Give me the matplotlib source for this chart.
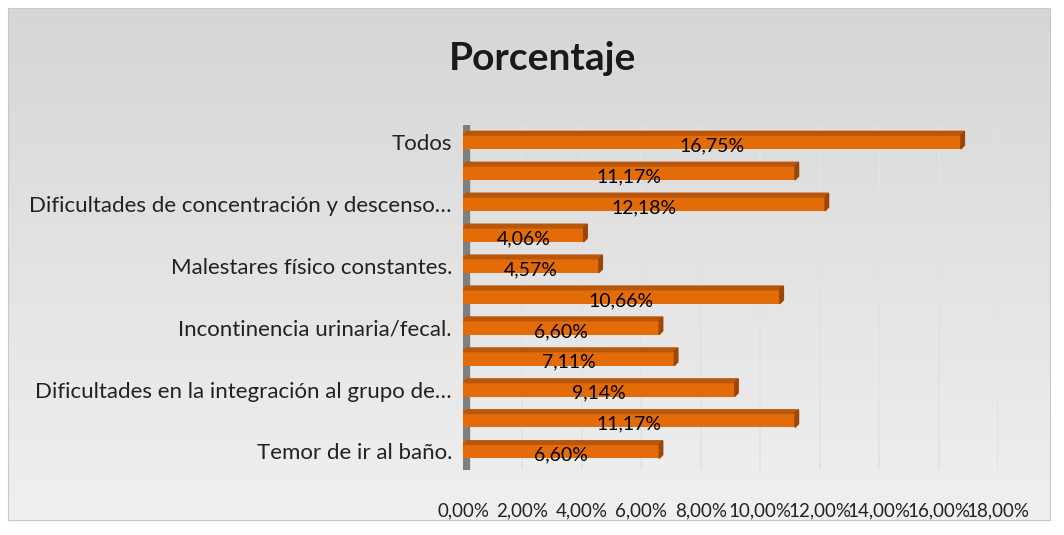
import matplotlib
matplotlib.use("Agg")
import matplotlib.pyplot as plt
import numpy as np
from matplotlib.patches import Polygon

categorias = ["Temor de ir al baño.", "",
              "Dificultades en la integración al grupo de…", "",
              "Incontinencia urinaria/fecal.", "",
              "Malestares físico constantes.", "",
              "Dificultades de concentración y descenso…", "",
              "Todos"]
valores = [6.60, 11.17, 9.14, 7.11, 6.60, 10.66, 4.57, 4.06, 12.18, 11.17, 16.75]
ticks_x = [0, 2, 4, 6, 8, 10, 12, 14, 16, 18]


def pct(v):
    return ("%.2f%%" % v).replace(".", ",")


def main():
    plt.rcParams['font.family'] = ['Lato', 'DejaVu Sans']
    fig = plt.figure(figsize=(10.64, 5.35), dpi=100)
    W, H = 1064, 535

    # fondo gris degradado del area del grafico
    bg = fig.add_axes([8 / W, 1 - 520 / H, 1042 / W, 512 / H])
    grad = np.linspace(0, 1, 256).reshape(-1, 1)
    bg.imshow(grad, aspect="auto", extent=[0, 1, 0, 1],
              cmap=matplotlib.colors.LinearSegmentedColormap.from_list("g", ["#D6D6D6", "#F0F0F0"]))
    bg.set_xticks([]), bg.set_yticks([])
    for s in bg.spines.values():
        s.set_color("#C8C8C8")
    fig.text(543 / W, 1 - 58 / H, "Porcentaje", ha="center", va="center",
             fontsize=28, fontweight="bold", color="#1a1a1a")

    ax = fig.add_axes([463 / W, 1 - 470 / H, 535 / W, 345 / H])
    ax.set_facecolor("none")
    y = np.arange(len(valores))
    h = 0.45
    ax.barh(y, valores, height=h, color="#E36C09", zorder=3)
    # caras superior y lateral (efecto 3D)
    dx, dy = 0.12, 0.12
    for yi, v in zip(y, valores):
        top = Polygon([[0, yi + h / 2], [v, yi + h / 2], [v + dx, yi + h / 2 + dy], [dx, yi + h / 2 + dy]],
                      closed=True, color="#B9560A", zorder=3)
        side = Polygon([[v, yi - h / 2], [v + dx, yi - h / 2 + dy], [v + dx, yi + h / 2 + dy], [v, yi + h / 2]],
                       closed=True, color="#9C4708", zorder=3)
        ax.add_patch(top)
        ax.add_patch(side)
        ax.text(v / 2, yi - 0.12, pct(v), ha="center", va="center", fontsize=14, color="black", zorder=4)

    ax.set_xlim(0, 18)
    ax.set_ylim(-0.6, len(valores) - 0.45)
    ax.set_xticks(ticks_x)
    ax.set_xticklabels([pct(t) for t in ticks_x], fontsize=13.5, color="#222222")
    ax.set_yticks(y)
    ax.set_yticklabels(categorias, fontsize=16, color="#222222")
    ax.tick_params(axis="x", length=0, pad=23)
    ax.tick_params(axis="y", length=0, pad=8)
    for t in ticks_x[1:]:
        ax.axvline(t, color="#E2E2E2", lw=1.2, zorder=1)
    # pared vertical
    ax.axvline(0.1, color="#7F7F7F", lw=6, zorder=2)
    for s in ax.spines.values():
        s.set_visible(False)

    fig.savefig("out.png", dpi=100, facecolor="white")


if __name__ == "__main__":
    main()
